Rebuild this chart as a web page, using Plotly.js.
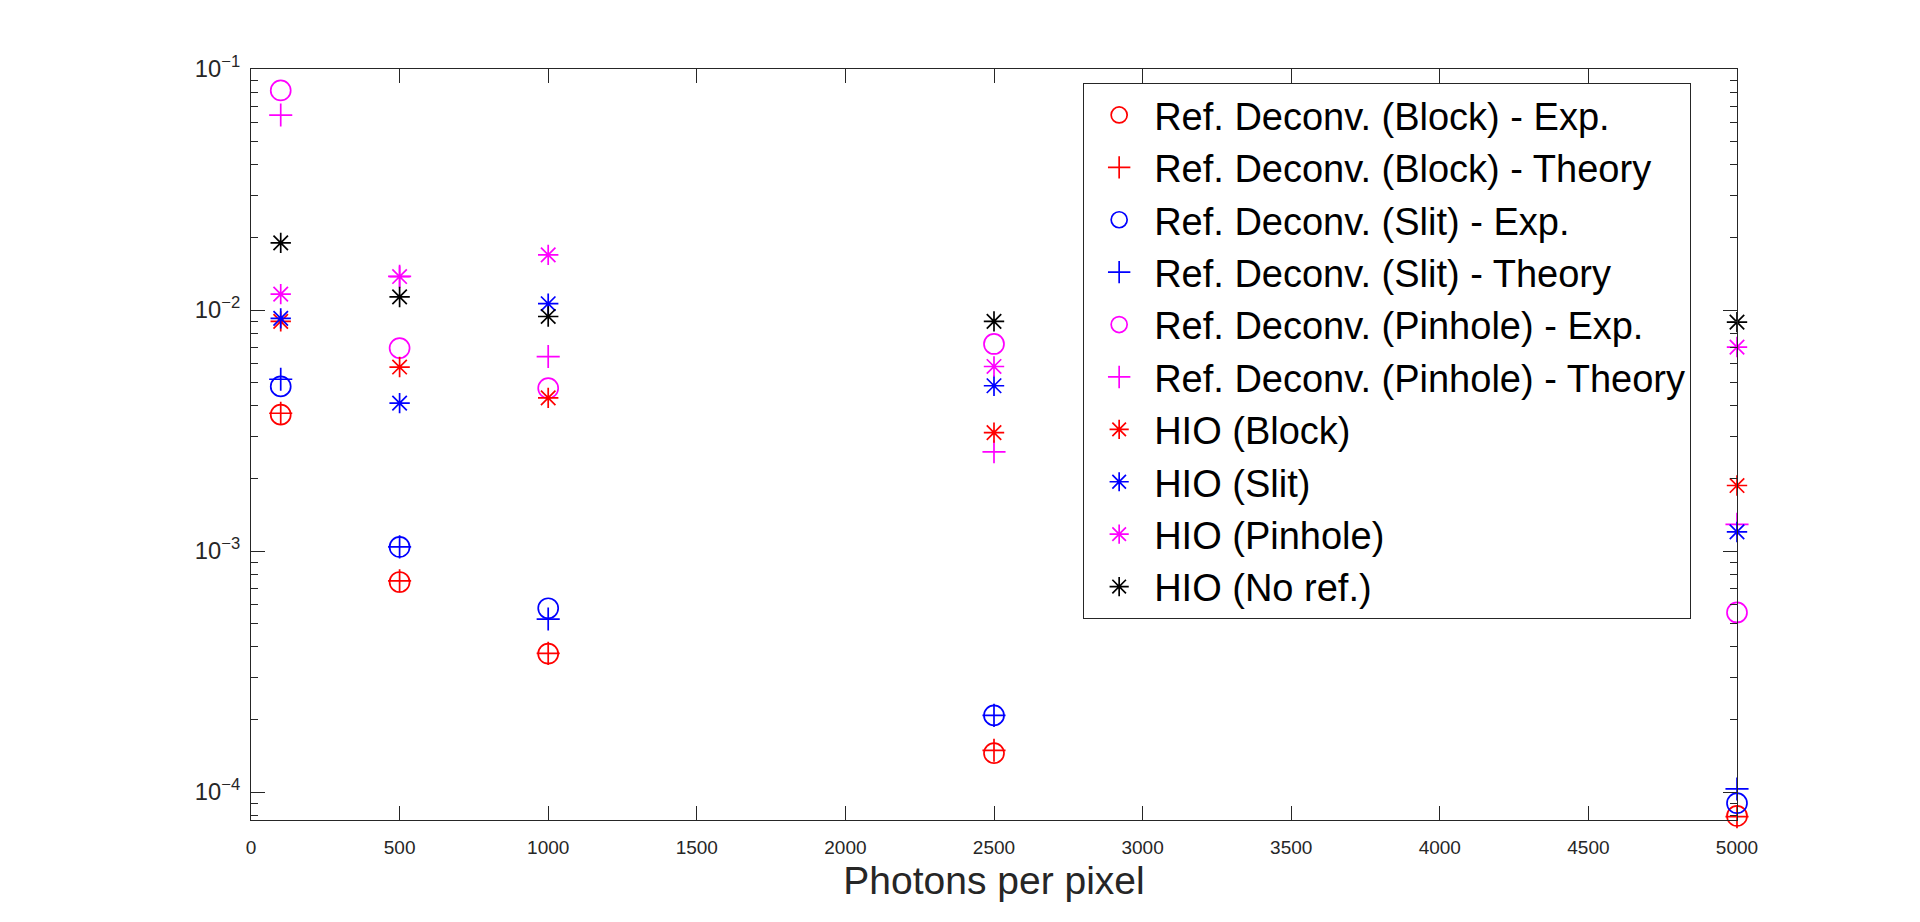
<!DOCTYPE html>
<html>
<head>
<meta charset="utf-8">
<script src="https://cdn.plot.ly/plotly-3.0.1.min.js"></script>
<style>
  html, body { margin: 0; padding: 0; background: #fff; }
  #chart { width: 1920px; height: 922px; }
</style>
</head>
<body>
<div id="chart"></div>
<script>
var CHART = document.getElementById('chart');

// photons per pixel
var photons = [100, 500, 1000, 2500, 5000];

// error values (log scale)
var block_exp       = [0.00368, 0.000744, 0.000375, 0.000145, 0.0000796];
var block_theory    = [0.00373, 0.000752, 0.000376, 0.000149, 0.0000790];
var slit_exp        = [0.00482, 0.00104, 0.000579, 0.000208, 0.0000899];
var slit_theory     = [0.00516, 0.00104, 0.000522, 0.000208, 0.000103];
var pinhole_exp     = [0.0815, 0.00695, 0.00474, 0.00723, 0.000556];
var pinhole_theory  = [0.0644, 0.0138, 0.00641, 0.00258, 0.00129];
var hio_block       = [0.00897, 0.00580, 0.00432, 0.00310, 0.00187];
var hio_slit        = [0.00923, 0.00411, 0.01062, 0.00485, 0.00120];
var hio_pinhole     = [0.01164, 0.01377, 0.01694, 0.00583, 0.00702];
var hio_noref       = [0.0190, 0.01133, 0.00940, 0.00897, 0.00891];

var names = ['Ref. Deconv. (Block) - Exp.',
             'Ref. Deconv. (Block) - Theory',
             'Ref. Deconv. (Slit) - Exp.',
             'Ref. Deconv. (Slit) - Theory',
             'Ref. Deconv. (Pinhole) - Exp.',
             'Ref. Deconv. (Pinhole) - Theory',
             'HIO (Block)',
             'HIO (Slit)',
             'HIO (Pinhole)',
             'HIO (No ref.)'];

var series  = [block_exp, block_theory, slit_exp, slit_theory, pinhole_exp,
               pinhole_theory, hio_block, hio_slit, hio_pinhole, hio_noref];
var colors  = ['#ff0000', '#ff0000', '#0000ff', '#0000ff', '#ff00ff',
               '#ff00ff', '#ff0000', '#0000ff', '#ff00ff', '#000000'];
var symbols = ['circle-open', 'cross-thin-open', 'circle-open', 'cross-thin-open', 'circle-open',
               'cross-thin-open', 'asterisk-open', 'asterisk-open', 'asterisk-open', 'asterisk-open'];
var sizes   = {'circle-open': 20, 'cross-thin-open': 16.5, 'asterisk-open': 17};

var AX = '#262626';
var FONT = 'Arial, "Liberation Sans", Helvetica, sans-serif';

var data = [];
for (var i = 0; i < series.length; i++) {
    data.push({ x: photons,
                y: series[i],
                type: 'scatter',
                mode: 'markers',
                name: names[i],
                cliponaxis: false,
                marker: { symbol: symbols[i],
                          size: sizes[symbols[i]],
                          color: colors[i],
                          line: { color: colors[i], width: 1.7 } }
              });
}

var layout = { width: 1920,
               height: 922,
               margin: { l: 251, r: 183, t: 69, b: 102, pad: 0 },
               paper_bgcolor: '#ffffff',
               plot_bgcolor: '#ffffff',
               showlegend: true,
               legend: { x: 0.56, y: 0.9817, xanchor: 'left', yanchor: 'top',
                         bgcolor: '#ffffff', bordercolor: AX, borderwidth: 1,
                         itemwidth: 60, traceorder: 'normal',
                         font: { family: FONT, size: 38, color: '#000000' } },
               xaxis: { range: [0, 5000], tickmode: 'linear', tick0: 0, dtick: 500,
                        ticks: 'inside', ticklen: 14, tickwidth: 1, tickcolor: AX,
                        showline: true, linecolor: AX, linewidth: 1, mirror: 'ticks',
                        showgrid: false, zeroline: false, ticklabelstandoff: 10,
                        tickfont: { family: FONT, size: 19, color: AX },
                        title: { text: 'Photons per pixel', standoff: 9,
                                 font: { family: FONT, size: 39, color: AX } } },
               yaxis: { type: 'log', range: [-4.116, -1], tickmode: 'linear', tick0: 0, dtick: 1,
                        exponentformat: 'power',
                        ticks: 'inside', ticklen: 14, tickwidth: 1, tickcolor: AX,
                        minor: { ticks: 'inside', ticklen: 7, tickwidth: 1, tickcolor: AX,
                                 dtick: 'D1', showgrid: false },
                        showline: true, linecolor: AX, linewidth: 1, mirror: 'ticks',
                        showgrid: false, zeroline: false, ticklabelstandoff: 6,
                        tickfont: { family: FONT, size: 19, color: AX } }
             };

var config = { displayModeBar: false, responsive: false, staticPlot: true };

Plotly.newPlot(CHART, data, layout, config);
</script>
</body>
</html>
